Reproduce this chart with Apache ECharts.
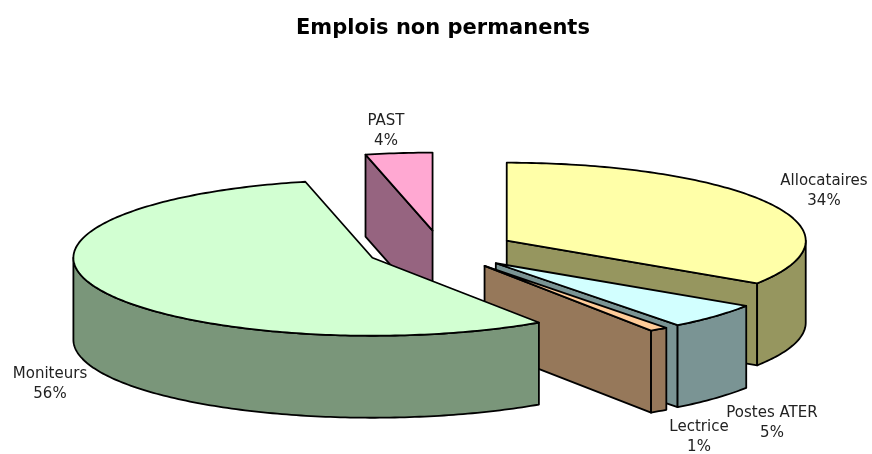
<!DOCTYPE html>
<html>
<head>
<meta charset="utf-8">
<style>
html, body { margin: 0; padding: 0; background: #fff; }
#chart { width: 872px; height: 454px; }
</style>
<script src="https://cdn.jsdelivr.net/npm/echarts@6/dist/echarts.min.js"></script>
</head>
<body>
<div id="chart"></div>
<script>
// valeurs (les pourcentages affichés en sont les arrondis)
const categories = ['Allocataires', 'Postes ATER', 'Lectrice', 'Moniteurs', 'PAST'];
const values = [34.2, 5.4, 1.0, 55.8, 3.6];
const displayed = ['34%', '5%', '1%', '56%', '4%'];
const topColors = ['#ffffa8', '#d2ffff', '#ffcc99', '#d2ffd2', '#ffa8d2'];
const sideColors = ['#96965f', '#7a9494', '#96785a', '#7a967a', '#966480'];
// ordre de dessin, du fond vers l'avant
const drawOrder = [4, 0, 1, 2, 3];
const labelAnchors = [[824, 191], [772, 423], [699, 437], [50, 384], [386, 131]];

// géométrie du camembert 3D
const CX = 441, CY = 250, RX = 299, RY = 78, DEPTH = 82, EXPLODE = 0.25;
const LINE = { stroke: '#000', lineWidth: 1.8, lineJoin: 'round' };

const total = values.reduce((a, b) => a + b, 0);
const startAngles = [];
values.reduce((acc, v, i) => { startAngles[i] = acc; return acc + v; }, 0);

function toRad(v) {
    return v / total * Math.PI * 2;
}

function arcPoints(cx, cy, a0, a1, dy) {
    const pts = [];
    const n = Math.max(2, Math.ceil((a1 - a0) * 60));
    for (let i = 0; i <= n; i++) {
        const a = a0 + (a1 - a0) * i / n;
        pts.push([cx + RX * Math.sin(a), cy - RY * Math.cos(a) + dy]);
    }
    return pts;
}

function poly(points, fill) {
    return { type: 'polygon', shape: { points: points }, style: Object.assign({ fill: fill }, LINE) };
}

function radialFace(cx, cy, a, fill) {
    const x = cx + RX * Math.sin(a), y = cy - RY * Math.cos(a);
    return poly([[cx, cy], [x, y], [x, y + DEPTH], [cx, cy + DEPTH]], fill);
}

function renderSlice(params, api) {
    const i = api.value(0);
    const a0 = toRad(startAngles[i]);
    const a1 = a0 + toRad(api.value(1));
    const mid = (a0 + a1) / 2;
    const cx = CX + RX * EXPLODE * Math.sin(mid);
    const cy = CY - RY * EXPLODE * Math.cos(mid);
    const children = [];

    // faces radiales visibles
    if (Math.sin(a0) < -0.001) children.push(radialFace(cx, cy, a0, sideColors[i]));
    if (Math.sin(a1) > 0.001) children.push(radialFace(cx, cy, a1, sideColors[i]));

    // paroi extérieure : seulement la partie avant de l'ellipse
    const w0 = Math.max(a0, Math.PI / 2);
    const w1 = Math.min(a1, Math.PI * 1.5);
    if (w1 > w0) {
        const upper = arcPoints(cx, cy, w0, w1, 0);
        const lower = arcPoints(cx, cy, w0, w1, DEPTH).reverse();
        children.push(poly(upper.concat(lower), sideColors[i]));
    }

    // dessus
    children.push(poly([[cx, cy]].concat(arcPoints(cx, cy, a0, a1, 0)), topColors[i]));

    // étiquette
    children.push({
        type: 'text',
        z2: 10,
        style: {
            x: labelAnchors[i][0],
            y: labelAnchors[i][1],
            text: categories[i] + '\n' + displayed[i],
            fill: '#222',
            font: '15px "DejaVu Sans"',
            lineHeight: 20,
            align: 'center',
            verticalAlign: 'middle'
        }
    });
    return { type: 'group', children: children };
}

const chart = echarts.init(document.getElementById('chart'), null, { renderer: 'canvas' });
chart.setOption({
    animation: false,
    backgroundColor: '#fff',
    title: {
        text: 'Emplois non permanents',
        left: 291,
        top: 13,
        textStyle: { fontFamily: 'DejaVu Sans', fontWeight: 'bold', fontSize: 21, color: '#000' }
    },
    series: [{
        type: 'custom',
        coordinateSystem: 'none',
        renderItem: renderSlice,
        data: drawOrder.map(i => [i, values[i]])
    }]
});
</script>
</body>
</html>
